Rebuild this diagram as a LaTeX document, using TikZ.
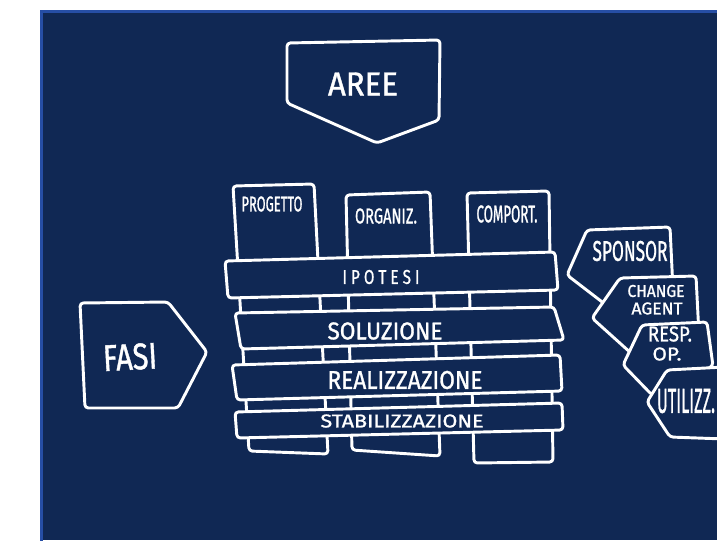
\documentclass[tikz,border=0pt]{standalone}
\usepackage{fontspec}
\setmainfont{Fira Sans}
\newfontfamily\hwfont{Fira Sans}[FakeBold=1.2]
\usepackage{graphicx}
\newdimen\hu \hu=0.75pt
\newcommand{\hw}[3]{\resizebox{#1\hu}{#2\hu}{\hwfont #3}}
\definecolor{navy}{RGB}{16,40,84}
\definecolor{frameblue}{RGB}{38,78,165}
\tikzset{
  ink/.style={draw=white, line width=2.2pt, line join=round, line cap=round, rounded corners=2.5pt, fill=navy},
  lbl/.style={text=white, inner sep=0pt}
}
\begin{document}
\begin{tikzpicture}[x=0.75pt,y=-0.75pt]
\useasboundingbox (0,0) rectangle (717,540);
\fill[white] (0,0) rectangle (717,540);
\fill[navy] (40,10) rectangle (717,540);
\draw[frameblue, line width=2.2pt] (41.5,545) -- (41.5,11.5) -- (720,11.5);

% AREE
\draw[ink] (287,43) -- (440,40) -- (439,120) -- (377,143) -- (287,103) -- cycle;
\node[lbl] (aree) at (363,84) {\hw{70}{23}{AREE}};

% FASI
\draw[ink] (80,303) -- (168,302) -- (207,352) -- (178,408) -- (85,408) -- cycle;
\node[lbl, rotate=3] (fasi) at (130,357) {\hw{54}{26}{FASI}};

% columns
\draw[ink] (233,186) -- (314,184) -- (328,454) -- (249,451) -- cycle;
\draw[ink] (346,195) -- (430,192) -- (440,456) -- (352,450) -- cycle;
\draw[ink] (467,193) -- (549,191) -- (553,462) -- (474,463) -- cycle;
\node[lbl] (progetto) at (272,204) {\hw{61}{15}{PROGETTO}};
\node[lbl] (organiz) at (386,216) {\hw{62}{15}{ORGANIZ.}};
\node[lbl] (comport) at (507,214) {\hw{61}{17}{COMPORT.}};

% bands
\draw[ink] (225,261) -- (555,252) -- (558,290) -- (228,298) -- cycle;
\node[lbl] (ipotesi) at (381,277) {\hw{77}{14}{I P O T E S I}};
\draw[ink] (235,313) -- (554,307) -- (564,340) -- (241,349) -- cycle;
\node[lbl] (soluzione) at (385,331) {\hw{115}{17}{SOLUZIONE}};
\draw[ink] (232,365) -- (560,355) -- (562,391) -- (237,400) -- cycle;
\node[lbl] (realizzazione) at (405,380) {\hw{155}{18}{REALIZZAZIONE}};
\draw[ink] (235,412) -- (562,403) -- (563,430) -- (237,438) -- cycle;
\node[lbl] (stabilizzazione) at (402,421) {\hw{163}{13}{STABILIZZAZIONE}};

% roles
\begin{scope}
\clip (0,0) rectangle (717,540);
\draw[ink] (587,230) -- (670,227) -- (673,290) -- (610,308) -- (567,275) -- cycle;
\node[lbl] (sponsor) at (630,251) {\hw{75}{20}{SPONSOR}};
\draw[ink] (620,278) -- (696,276) -- (699,335) -- (632,354) -- (592,318) -- cycle;
\node[lbl] (change) at (656,291) {\hw{57}{12}{CHANGE}};
\node[lbl] (agent) at (657,308.5) {\hw{51}{12}{AGENT}};
\draw[ink] (642,325) -- (707,322) -- (713,366) -- (652,395) -- (623,365) -- cycle;
\node[lbl] (resp) at (670,334) {\hw{44}{15}{RESP.}};
\node[lbl] (op) at (667,354) {\hw{29}{13}{OP.}};
\draw[ink] (667,370) -- (725,367) -- (725,439) -- (670,437) -- (647,402) -- cycle;
\node[lbl] (utilizz) at (686,401) {\hw{58}{24}{UTILIZZ.}};
\end{scope}
\end{tikzpicture}
\end{document}
